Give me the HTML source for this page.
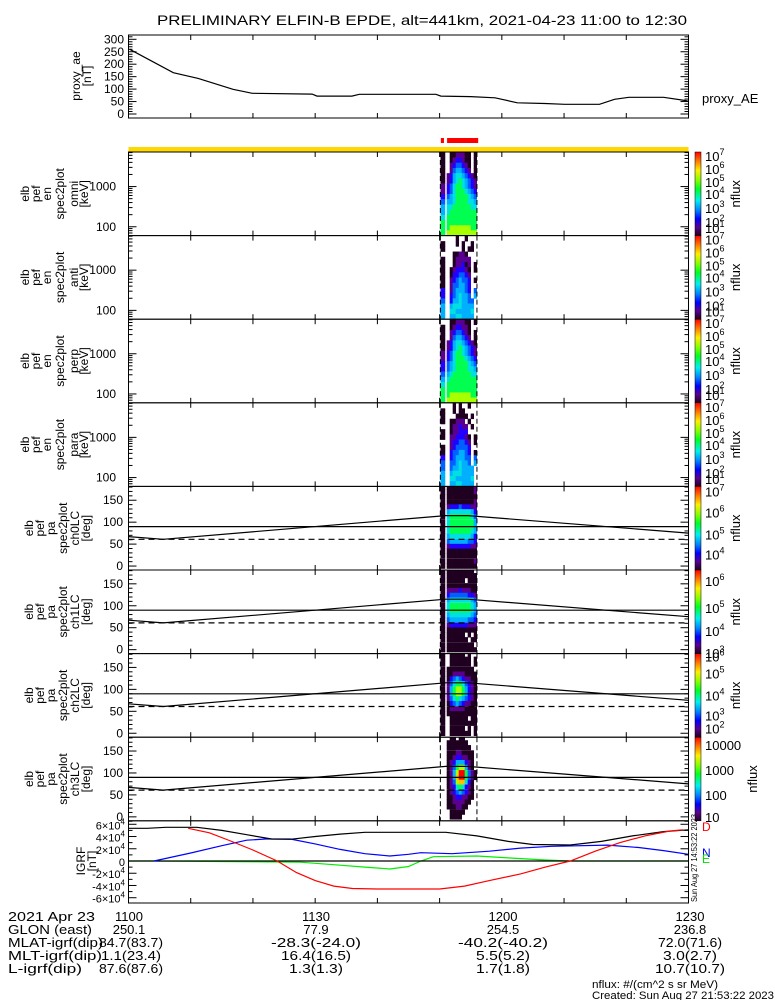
<!DOCTYPE html>
<html><head><meta charset="utf-8"><title>ELFIN-B EPDE</title>
<style>
html,body{margin:0;padding:0;background:#fff;}
svg{display:block;font-family:"Liberation Sans",sans-serif;}
text{fill:#000;}
</style></head>
<body>
<svg id="chart" xmlns="http://www.w3.org/2000/svg" width="775" height="1000" viewBox="0 0 775 1000">
<defs>
<linearGradient id="cbar" x1="0" y1="0" x2="0" y2="1">
<stop offset="0" stop-color="#ff0000"/><stop offset="0.1" stop-color="#ff7000"/><stop offset="0.22" stop-color="#ffee00"/>
<stop offset="0.34" stop-color="#80ff00"/><stop offset="0.44" stop-color="#00ff20"/><stop offset="0.58" stop-color="#00f0f0"/>
<stop offset="0.7" stop-color="#0080ff"/><stop offset="0.8" stop-color="#0000ff"/><stop offset="0.9" stop-color="#5a0090"/>
<stop offset="1" stop-color="#200020"/></linearGradient>
</defs>
<text x="422" y="25" font-size="14" text-anchor="middle" textLength="530" lengthAdjust="spacingAndGlyphs">PRELIMINARY ELFIN-B EPDE, alt=441km, 2021-04-23 11:00 to 12:30</text>
<text x="702" y="103" font-size="13">proxy_AE</text>
<g font-size="13">
<text x="8" y="921" textLength="87" lengthAdjust="spacingAndGlyphs">2021 Apr 23</text>
<text x="8" y="934" textLength="84" lengthAdjust="spacingAndGlyphs">GLON (east)</text>
<text x="8" y="947" textLength="95" lengthAdjust="spacingAndGlyphs">MLAT-igrf(dip)</text>
<text x="8" y="960" textLength="94" lengthAdjust="spacingAndGlyphs">MLT-igrf(dip)</text>
<text x="8" y="973" textLength="74" lengthAdjust="spacingAndGlyphs">L-igrf(dip)</text>
<text x="129" y="921" text-anchor="middle">1100</text>
<text x="316" y="921" text-anchor="middle">1130</text>
<text x="503" y="921" text-anchor="middle">1200</text>
<text x="690" y="921" text-anchor="middle">1230</text>
<text x="129" y="934" text-anchor="middle">250.1</text>
<text x="316" y="934" text-anchor="middle">77.9</text>
<text x="503" y="934" text-anchor="middle">254.5</text>
<text x="690" y="934" text-anchor="middle">236.8</text>
<text x="131" y="947" text-anchor="middle" textLength="64" lengthAdjust="spacingAndGlyphs">84.7(83.7)</text>
<text x="316" y="947" text-anchor="middle" textLength="90" lengthAdjust="spacingAndGlyphs">-28.3(-24.0)</text>
<text x="503" y="947" text-anchor="middle" textLength="90" lengthAdjust="spacingAndGlyphs">-40.2(-40.2)</text>
<text x="690" y="947" text-anchor="middle" textLength="64" lengthAdjust="spacingAndGlyphs">72.0(71.6)</text>
<text x="131" y="960" text-anchor="middle" textLength="60" lengthAdjust="spacingAndGlyphs">1.1(23.4)</text>
<text x="316" y="960" text-anchor="middle" textLength="70" lengthAdjust="spacingAndGlyphs">16.4(16.5)</text>
<text x="503" y="960" text-anchor="middle" textLength="54" lengthAdjust="spacingAndGlyphs">5.5(5.2)</text>
<text x="690" y="960" text-anchor="middle" textLength="54" lengthAdjust="spacingAndGlyphs">3.0(2.7)</text>
<text x="131" y="973" text-anchor="middle" textLength="64" lengthAdjust="spacingAndGlyphs">87.6(87.6)</text>
<text x="316" y="973" text-anchor="middle" textLength="54" lengthAdjust="spacingAndGlyphs">1.3(1.3)</text>
<text x="503" y="973" text-anchor="middle" textLength="54" lengthAdjust="spacingAndGlyphs">1.7(1.8)</text>
<text x="690" y="973" text-anchor="middle" textLength="70" lengthAdjust="spacingAndGlyphs">10.7(10.7)</text>
</g>
<text x="592" y="988" font-size="11" textLength="126" lengthAdjust="spacingAndGlyphs">nflux: #/(cm^2 s sr MeV)</text>
<text x="592" y="999" font-size="11" textLength="182" lengthAdjust="spacingAndGlyphs">Created: Sun Aug 27 21:53:22 2023</text>
<text x="0" y="0" font-size="8" transform="translate(697,902) rotate(-90)" textLength="88" lengthAdjust="spacingAndGlyphs">Sun Aug 27 14:53:22 2023</text>
<text x="702" y="831" font-size="12" style="fill:#ff0000">D</text>
<text x="702" y="857" font-size="12" style="fill:#0000ff">N</text>
<text x="702" y="863" font-size="12" style="fill:#00dd00">E</text>
</svg>
<script>
// ---------- data ----------
const aeTimes = [0.2, 7.2, 11.2, 16.8, 19.9, 29.5, 30.3, 35.9, 37.1, 49.4, 50.2, 55.0, 58.9, 62.5, 66.9, 70.1, 75.7, 78.1, 80.4, 86.0, 89.6, 90];
const aeValues = [260, 166, 143, 99, 83, 80, 72, 72, 79, 79, 72, 70, 65, 45, 42, 39, 39, 59, 67, 67, 54, 50];
const aeTicks = [0, 50, 100, 150, 200, 250, 300];
const timeTicks = [0, 10, 20, 30, 40, 50, 60, 70, 80, 90];
const energyTicks = [100, 1000];
const pitchTicks = [0, 50, 100, 150];
const specTimes = [50.14, 51.14, 51.62, 52.10, 52.59, 53.07, 53.55, 54.03, 54.51, 55.00, 55.48];
const energyBins = [70, 94, 127, 171, 230, 310, 418, 564, 759, 1023, 1378, 1857, 2502, 3371, 4542, 6120];
const pitchBins = [180, 169, 158, 146, 135, 124, 113, 101, 90, 79, 68, 56, 45, 34, 23, 11, 0];
const omniGrid = ["1.1122211.1","1.1233211.1","1.2344321.1","1.2455432.1","12356654321","12356765432","23467765432","23467776543","34567777654","45567777665","56677777766","56777777777","67777777777","77777777777","77888888877","78888888888"];
const antiGrid = ["....1..1...","1...1.1..1.","1.....1.11.","...11221...","1..122222..","1..122312.1","1.1233321.1","1.1334432..","1.2345443.1","1.2445543..","3.2455543.4","3.3456554.5","4.35565544.","5.56665555.","5.66555556.","5.55665555."];
const perpGrid = ["..1122211.1","1.1233221..","1.2344321.1","1.2455432.1","12356654321","12356765432","23467765432","23467776543","34567777654","34567777665","45677777766","56777777777","67777777777","77777777777","77888888877","78888888888"];
const paraGrid = ["...1.1..1..","1..1.11....","1...1111.1.","1.11222.1..","..122322.1.","1.122333...","1.2233321.1","..2334432.1","1.2344443..","1.3445543.1","3.3455544.4","4.4456554.5","4.45565555.","5.56665555.","5.66555556.","5.55665555."];
const ch0Grid = ["11111111112","11111111112","11111111111","11111111112","12333433322","15666666653","16777777764","16777777775","16777777775","16777777765","15666666653","14555555443","12333333322","11111111111","11111111111","11111111112","11111111111"];
const ch1Grid = ["1111111111.","11111111111","1111111.111","11111111111","12222322211","13444444332","15666666654","16777777765","16777777765","15666666654","14555555443","12333333222","11111111111","1111111.1.1","11111111.11","1111111111.","11111111111"];
const ch2Grid = ["1.11111.1..","1.1111111.1","1.1111111.1","1111111111.","11122221111","11345432211","12467764321","12578875321","12578875321","12467654321","11345432211","11222221111","11111111111","1.111111.11","1.111111111","1.11111.1.1","1.1111111.1"];
const ch3Grid = ["..11.11....",".1111111...",".11111111..",".111221111.",".112332211.",".123555321.",".124788521.",".1258aa7421",".1259aa7421",".124899631.",".123676321.",".123454321.",".112332211.",".11222211..",".1112211...","..11111....","..1111....."];
const lcTimes = [0, 5.6, 51, 54.5, 90];
const lcValues = [67, 61, 115, 115, 75];
const lossConeValue = 61;
const perpValue = 90;
const scienceZones = [[50.2, 50.7], [51.2, 56.2]];
const igrfTicks = [-6, -4, -2, 0, 2, 4, 6];
const bTotTimes = [0, 3, 6, 11, 15, 19, 23, 26, 30, 34, 38, 51, 56, 61, 65, 71, 76, 81, 86, 90];
const bTotValues = [5.34, 5.34, 5.5, 5.5, 5.0, 4.3, 3.6, 3.55, 4.0, 4.4, 4.69, 4.69, 4.1, 3.2, 2.7, 2.61, 3.2, 4.1, 4.8, 5.1];
const bDTimes = [9.6, 13, 16, 20, 23.9, 27, 30, 33, 36, 40, 50, 54, 58, 63, 67, 71, 75, 79, 83, 87, 89.1];
const bDValues = [5.34, 4.6, 3.43, 1.8, 0, -1.9, -3.2, -4.1, -4.5, -4.57, -4.57, -4.1, -3.2, -2.1, -1.0, 0, 1.6, 3.0, 4.1, 4.9, 5.1];
const bNTimes = [4.1, 10, 15, 19, 22, 26, 30, 34, 38, 42, 45, 47, 52, 58, 63, 68, 77, 82, 86, 90];
const bNValues = [0, 1.3, 2.5, 3.4, 3.6, 3.6, 2.8, 1.9, 1.2, 0.82, 1.1, 1.36, 1.2, 1.6, 2.1, 2.4, 2.6, 2.2, 1.7, 1.09];
const bETimes = [0, 4, 27.6, 33, 38, 42, 45, 47, 49, 56, 61, 67, 71, 90];
const bEValues = [0, 0, -0.2, -0.6, -1.0, -1.3, -0.9, 0, 0.7, 0.82, 0.5, 0.16, 0, 0];

// ---------- geometry ----------
const NS = 'http://www.w3.org/2000/svg';
const svg = document.getElementById('chart');
function mk(tag, attrs, parent) { const e = document.createElementNS(NS, tag); for (const k in attrs) e.setAttribute(k, attrs[k]); (parent || svg).appendChild(e); return e; }
const XL = 128.5, XR = 688.5;
function X(t) { return XL + t / 90 * (XR - XL); }
const PH = 83.6;
function pTop(i) { return 152 + i * PH; }
function yAE(v) { return 114 - v * 0.249; }
function yE(i, e) { return pTop(i) + (3.86 - Math.log10(e)) / 2.08 * PH; }
function yP(i, p) { return pTop(i) + (181.5 - p) / 190.5 * PH; }
function yB(v) { return 861 - v * 6.12; }
const cmap = {'1':'#200020','2':'#5a0090','3':'#2000ff','4':'#0060ff','5':'#00b0ff','6':'#00e0e0','7':'#00ff50','8':'#a8ff00','9':'#ffc000','a':'#ff0000'};

function xTicks(g, top, bot) {
  timeTicks.forEach(t => {
    mk('line', {x1: X(t), x2: X(t), y1: bot, y2: bot - 5, stroke: '#000'}, g);
    mk('line', {x1: X(t), x2: X(t), y1: top, y2: top + 5, stroke: '#000'}, g);
  });
}
function yTick(g, y, len) {
  mk('line', {x1: XL, x2: XL + len, y1: y, y2: y, stroke: '#000'}, g);
  mk('line', {x1: XR, x2: XR - len, y1: y, y2: y, stroke: '#000'}, g);
}
function leftLabel(g, lines, xs, yc) {
  lines.forEach((s, k) => {
    const t = mk('text', {x: 0, y: 0, 'font-size': 12, 'text-anchor': 'middle', transform: 'translate(' + xs[k] + ',' + yc + ') rotate(-90)'}, g);
    t.textContent = s;
  });
}
function polyline(g, ts, vs, yf, color, dash) {
  const pts = ts.map((t, k) => X(t).toFixed(1) + ',' + yf(vs[k]).toFixed(1)).join(' ');
  const a = {points: pts, fill: 'none', stroke: color, 'stroke-width': 1.2};
  if (dash) a['stroke-dasharray'] = dash;
  return mk('polyline', a, g);
}

// ---------- proxy AE panel ----------
const aeG = mk('g', {});


const aeLine = polyline(aeG, aeTimes, aeValues, yAE, '#000');


for (let v = 0; v <= 310; v += 10) yTick(aeG, yAE(v), v % 50 === 0 ? 8 : 4);
aeTicks.forEach(v => { const t = mk('text', {x: 124, y: yAE(v) + 4, 'font-size': 12, 'text-anchor': 'end'}, aeG); t.textContent = v; });
xTicks(aeG, 35, 118);
mk('rect', {x: XL, y: 35, width: XR - XL, height: 83, fill: 'none', stroke: '#000'}, aeG);
leftLabel(aeG, ['proxy_ae', '[nT]'], [80, 91], 76);

// ---------- status bars ----------
const yb = mk('rect', {x: XL, y: 147, width: XR - XL, height: 5, fill: '#ffd800'});


scienceZones.forEach(z => {
  const r = mk('rect', {x: X(z[0]), y: 138, width: X(z[1]) - X(z[0]), height: 5, fill: '#ff0000'});
  
  
});

// ---------- spectrogram panels ----------
const panels = [
  {grid: omniGrid, kind: 'E', lab: 'omni', name: 'omni-energy-spectrogram'},
  {grid: antiGrid, kind: 'E', lab: 'anti', name: 'anti-energy-spectrogram'},
  {grid: perpGrid, kind: 'E', lab: 'perp', name: 'perp-energy-spectrogram'},
  {grid: paraGrid, kind: 'E', lab: 'para', name: 'para-energy-spectrogram'},
  {grid: ch0Grid, kind: 'P', lab: 'ch0LC', name: 'ch0-pitch-spectrogram'},
  {grid: ch1Grid, kind: 'P', lab: 'ch1LC', name: 'ch1-pitch-spectrogram'},
  {grid: ch2Grid, kind: 'P', lab: 'ch2LC', name: 'ch2-pitch-spectrogram'},
  {grid: ch3Grid, kind: 'P', lab: 'ch3LC', name: 'ch3-pitch-spectrogram'}
];
const cbLabels = [
  [['7',4],['6',17],['5',30],['4',42],['3',56],['2',70],['1',76]],
  [['7',4],['6',17],['5',30],['4',42],['3',56],['2',70],['1',76]],
  [['7',4],['6',17],['5',30],['4',42],['3',56],['2',70],['1',76]],
  [['7',4],['6',17],['5',30],['4',42],['3',56],['2',70],['1',76]],
  [['7',5],['6',26],['5',48],['4',68]],
  [['6',11],['5',38],['4',61],['3',83]],
  [['6',3],['5',20],['4',42],['3',62],['2',75]],
  [['10000',8],['1000',33],['100',58],['10',80]]
];
panels.forEach((p, i) => {
  const top = pTop(i), bot = top + PH;
  const g = mk('g', {});
  
  
  const cp = mk('clipPath', {id: 'clip' + i}, g);
  mk('rect', {x: XL, y: top, width: XR - XL, height: PH}, cp);
  const cells = mk('g', {'clip-path': 'url(#clip' + i + ')'}, g);
  const nRows = p.grid.length;
  p.grid.forEach((row, r) => {
    for (let c = 0; c < row.length; c++) {
      const ch = row[c];
      if (ch === '.') continue;
      const t0 = specTimes[c];
      const t1 = c === 0 ? t0 + 0.72 : (c + 1 < specTimes.length ? specTimes[c + 1] : t0 + 0.48);
      let y0, y1;
      if (p.kind === 'E') {
        const e = energyBins[nRows - 1 - r];
        y0 = yE(i, e * Math.pow(10, 0.065)); y1 = yE(i, e / Math.pow(10, 0.065));
      } else {
        const pa = pitchBins[r];
        y0 = yP(i, pa + 5.6); y1 = yP(i, pa - 5.6);
      }
      const cell = mk('rect', {x: X(t0).toFixed(2), y: y0.toFixed(2), width: (X(t1) - X(t0) + 0.3).toFixed(2), height: (y1 - y0 + 0.3).toFixed(2), fill: cmap[ch]}, cells);
      
      
    }
  });
  [50.12, 56.0].forEach(t => mk('line', {x1: X(t), x2: X(t), y1: top, y2: bot, stroke: '#000', 'stroke-dasharray': '5,3'}, g));
  if (p.kind === 'E') {
    [60,70,80,90,100,200,300,400,500,600,700,800,900,1000,2000,3000,4000,5000,6000,7000].forEach(e => {
      const y = yE(i, e); if (y > top && y < bot) yTick(g, y, (e === 100 || e === 1000) ? 8 : 4);
    });
    energyTicks.forEach(e => { const t = mk('text', {x: 116, y: yE(i, e) + 4, 'font-size': 12, 'text-anchor': 'end'}, g); t.textContent = e; });
    leftLabel(g, ['elb', 'pef', 'en', 'spec2plot', p.lab, '[keV]'], [29, 40, 51, 64, 78, 88], top + PH / 2);
  } else {
    for (let a = -10; a <= 180; a += 10) yTick(g, yP(i, a), a % 50 === 0 ? 8 : 4);
    pitchTicks.forEach(a => { const t = mk('text', {x: 123, y: yP(i, a) + 4, 'font-size': 12, 'text-anchor': 'end'}, g); t.textContent = a; });
    const l1 = polyline(g, lcTimes, lcValues, v => yP(i, v), '#000');
    
    
    const l2 = polyline(g, [0, 90], [perpValue, perpValue], v => yP(i, v), '#000');
    
    
    const l3 = polyline(g, [0, 90], [lossConeValue, lossConeValue], v => yP(i, v), '#000', '6,4');
    
    
    leftLabel(g, ['elb', 'pef', 'pa', 'spec2plot', p.lab, '[deg]'], [33, 44, 55, 67, 79, 90], top + PH / 2);
  }
  xTicks(g, top, bot);
  mk('rect', {x: XL, y: top, width: XR - XL, height: PH, fill: 'none', stroke: '#000'}, g);
  const cb = mk('rect', {x: 695, y: top, width: 6, height: PH, fill: 'url(#cbar)', stroke: '#000', 'stroke-width': 0.5}, g);
  
  
  cbLabels[i].forEach(l => {
    const t = mk('text', {x: 705, y: top + l[1] + 5, 'font-size': 13}, g);
    if (i === 7) { t.textContent = l[0]; }
    else {
      t.textContent = '10';
      const s = mk('tspan', {dy: -6, 'font-size': 9}, t); s.textContent = l[0];
    }
  });
  const nf = mk('text', {x: 0, y: 0, 'font-size': 13, 'text-anchor': 'middle', transform: 'translate(' + (i === 7 ? 757 : 740) + ',' + (top + PH / 2) + ') rotate(-90)'}, g);
  nf.textContent = 'nflux';
});

// ---------- IGRF panel ----------
const ig = mk('g', {});


const igTop = pTop(8), igBot = 903;
const gE = polyline(ig, bETimes, bEValues, yB, '#00ee00');


const zl = polyline(ig, [0, 90], [0, 0], yB, '#000');


const gN = polyline(ig, bNTimes, bNValues, yB, '#0000ff');


const gT = polyline(ig, bTotTimes, bTotValues, yB, '#000');


const gD = polyline(ig, bDTimes, bDValues, yB, '#ff0000');


for (let v = -6; v <= 6; v += 1) yTick(ig, yB(v), v % 2 === 0 ? 8 : 4);
igrfTicks.forEach(v => {
  const t = mk('text', {x: 125, y: yB(v) + 5, 'font-size': 11, 'text-anchor': 'end'}, ig);
  if (v === 0) t.textContent = '0';
  else {
    t.textContent = v + '\u00d710';
    const s = mk('tspan', {dy: -5, 'font-size': 8}, t); s.textContent = '4';
  }
});
xTicks(ig, igTop, igBot);
mk('rect', {x: XL, y: igTop, width: XR - XL, height: igBot - igTop, fill: 'none', stroke: '#000'}, ig);
leftLabel(ig, ['IGRF', '[nT]'], [85, 96], 861);
</script>
</body></html>
